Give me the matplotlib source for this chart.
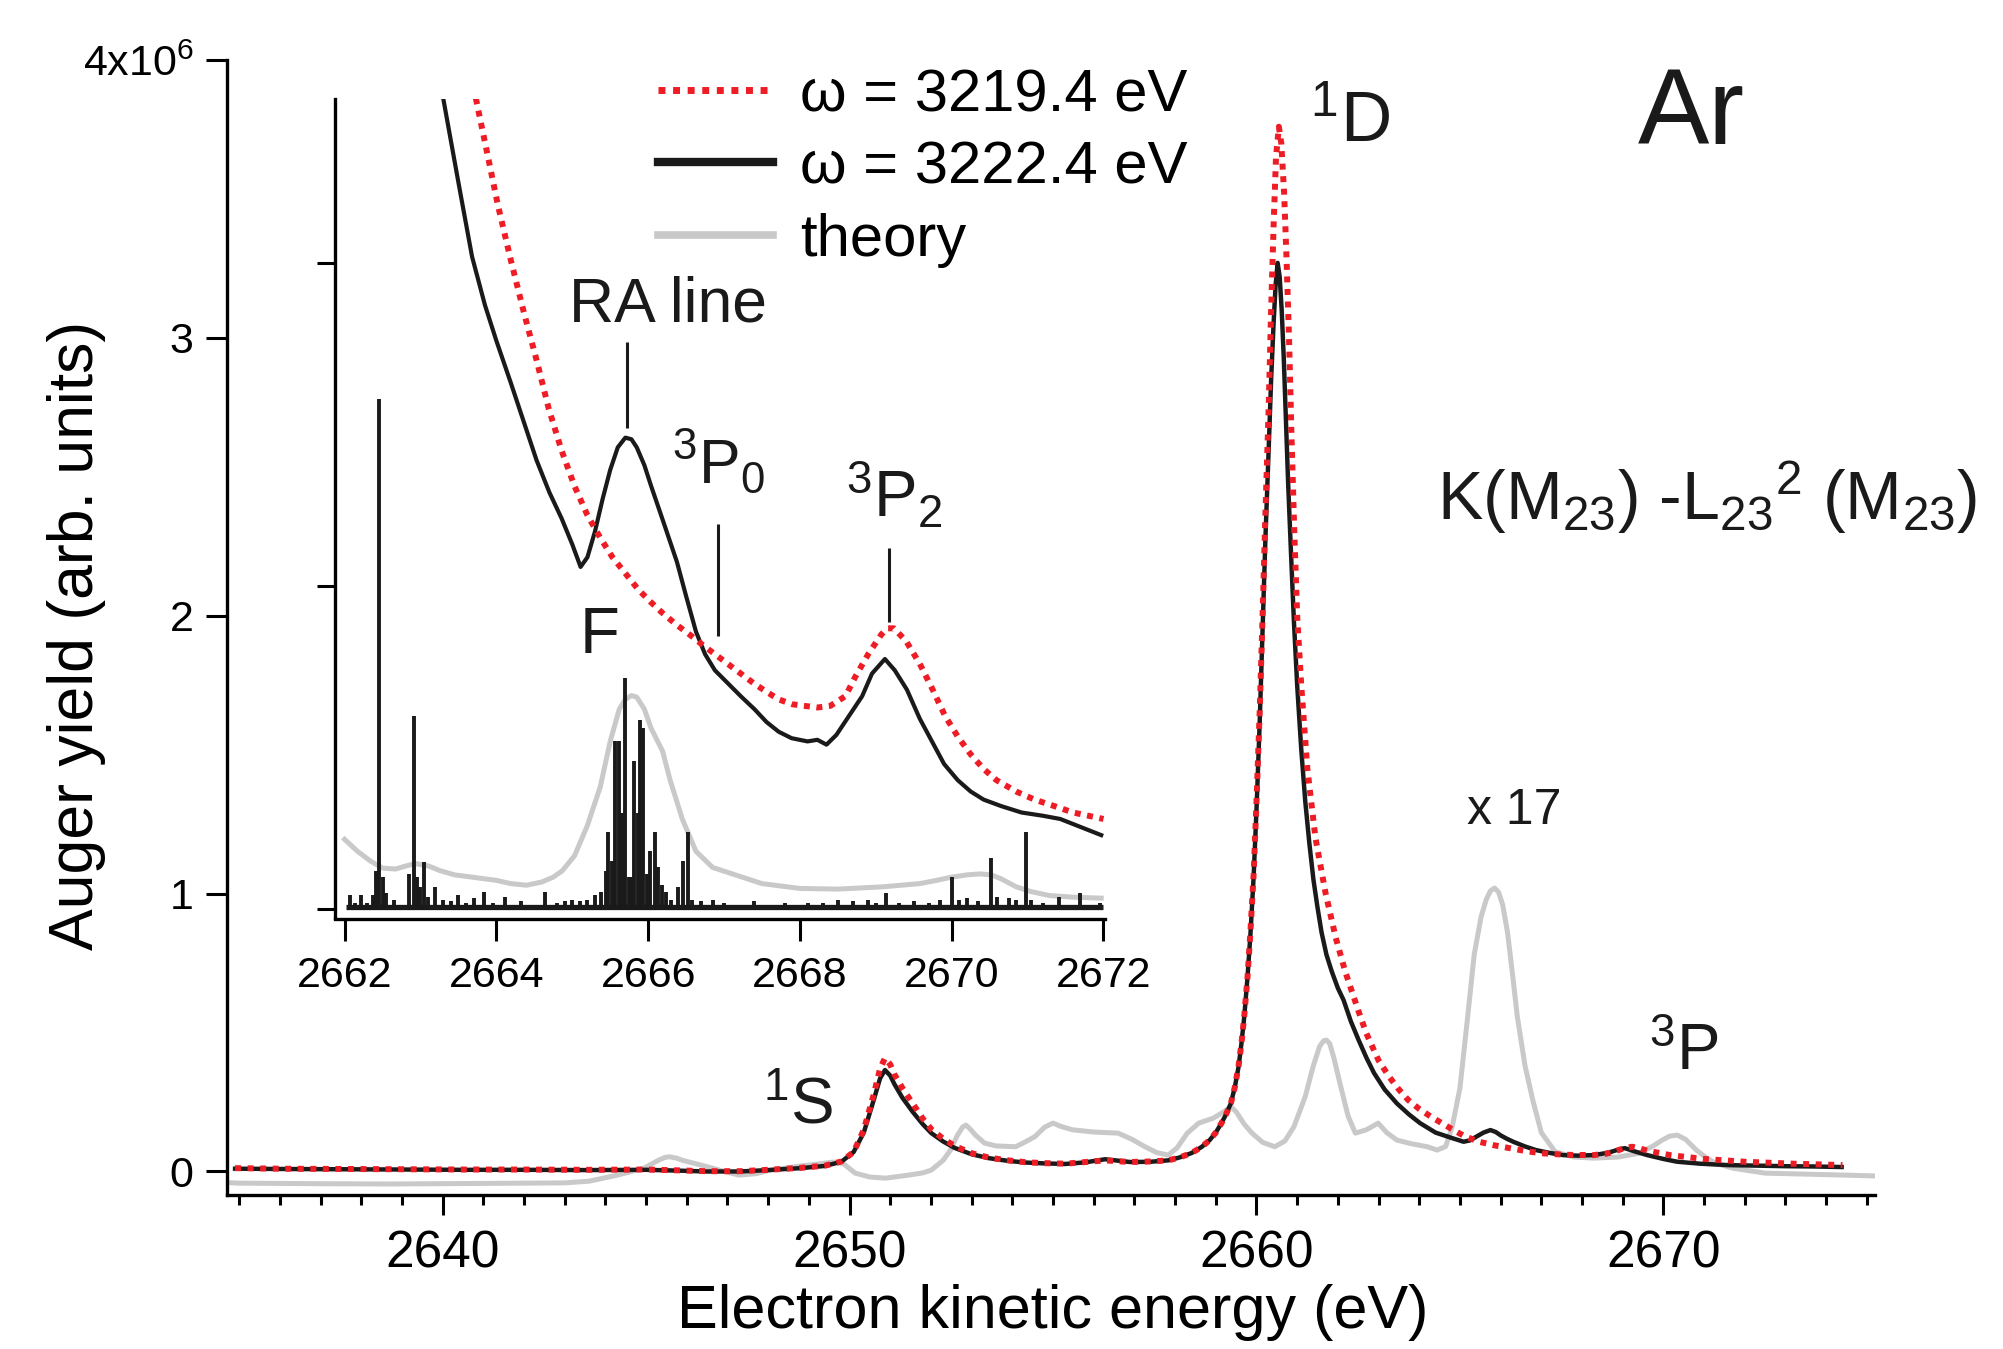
import matplotlib
matplotlib.use("Agg")
import matplotlib.pyplot as plt
from matplotlib.ticker import MultipleLocator, FixedLocator

plt.rcParams['font.family'] = ['Liberation Sans', 'DejaVu Sans']
plt.rcParams['mathtext.fontset'] = 'custom'
plt.rcParams['mathtext.rm'] = 'Liberation Sans'
plt.rcParams['mathtext.it'] = 'Liberation Sans:italic'
plt.rcParams['mathtext.bf'] = 'Liberation Sans:bold'

# ---------------- data (main panel, y in units of 1e6) ----------------
black_E = [2634.9, 2636.0, 2637.5, 2639.0, 2640.5, 2642.0, 2643.5, 2645.0, 2645.8, 2646.5,
           2647.3, 2648.0, 2648.8, 2649.4, 2649.8, 2650.1, 2650.35, 2650.6, 2650.75, 2650.87,
           2651.0, 2651.1, 2651.3, 2651.55, 2651.8, 2652.01, 2652.3, 2652.58, 2653.0, 2653.42,
           2653.9, 2654.35, 2654.8, 2655.3, 2655.8, 2656.28, 2656.9, 2657.4, 2657.83, 2658.1,
           2658.4, 2658.65, 2658.85, 2659.0, 2659.14, 2659.25, 2659.37, 2659.47, 2659.56, 2659.63,
           2659.70, 2659.78, 2659.85, 2659.93, 2660.0, 2660.08, 2660.15, 2660.22, 2660.30, 2660.36,
           2660.42, 2660.47, 2660.52, 2660.57, 2660.62, 2660.67, 2660.72, 2660.78, 2660.85, 2660.92,
           2661.0, 2661.1, 2661.2, 2661.3, 2661.4, 2661.5, 2661.6, 2661.72, 2661.85, 2662.0,
           2662.14, 2662.32, 2662.51, 2662.7, 2662.89, 2663.15, 2663.45, 2663.75, 2664.02, 2664.4,
           2664.81, 2665.09, 2665.25, 2665.4, 2665.58, 2665.75, 2665.88, 2666.0, 2666.15, 2666.31,
           2666.6, 2666.87, 2667.2, 2667.53, 2667.9, 2668.28, 2668.5, 2668.7, 2668.9, 2669.05,
           2669.3, 2669.6, 2670.0, 2670.34, 2670.9, 2671.57, 2672.3, 2673.0, 2673.7, 2674.38]
black_y = [0.010, 0.009, 0.008, 0.007, 0.006, 0.006, 0.005, 0.006, 0.003, 0.000,
           0.000, 0.005, 0.012, 0.020, 0.035, 0.07, 0.14, 0.26, 0.335, 0.365,
           0.345, 0.315, 0.265, 0.215, 0.17, 0.138, 0.108, 0.085, 0.062, 0.048,
           0.038, 0.032, 0.029, 0.027, 0.033, 0.044, 0.034, 0.035, 0.040, 0.050,
           0.066, 0.088, 0.113, 0.140, 0.174, 0.205, 0.245, 0.305, 0.377, 0.46,
           0.557, 0.70, 0.85, 1.06, 1.30, 1.62, 1.95, 2.28, 2.60, 2.85,
           3.05, 3.19, 3.27, 3.22, 3.10, 2.93, 2.72, 2.47, 2.22, 1.98,
           1.75, 1.52, 1.33, 1.18, 1.05, 0.95, 0.86, 0.78, 0.72, 0.66,
           0.617, 0.54, 0.473, 0.41, 0.354, 0.295, 0.245, 0.205, 0.174, 0.14,
           0.12, 0.107, 0.112, 0.125, 0.14, 0.149, 0.142, 0.13, 0.118, 0.107,
           0.09, 0.077, 0.067, 0.059, 0.057, 0.059, 0.064, 0.070, 0.079, 0.084,
           0.072, 0.059, 0.045, 0.035, 0.028, 0.023, 0.021, 0.019, 0.018, 0.016]

red_E = [2634.9, 2636.0, 2637.5, 2639.0, 2640.5, 2642.0, 2643.5, 2645.0, 2645.8, 2646.5,
         2647.3, 2648.0, 2648.8, 2649.4, 2649.8, 2650.1, 2650.35, 2650.6, 2650.75, 2650.87,
         2651.0, 2651.1, 2651.3, 2651.55, 2651.8, 2652.01, 2652.3, 2652.58, 2653.0, 2653.42,
         2653.9, 2654.35, 2654.8, 2655.3, 2655.8, 2656.28, 2656.9, 2657.4, 2657.83, 2658.1,
         2658.4, 2658.65, 2658.85, 2659.0, 2659.14, 2659.25, 2659.37, 2659.47, 2659.56, 2659.63,
         2659.70, 2659.78, 2659.85, 2659.93, 2660.0, 2660.08, 2660.15, 2660.22, 2660.3, 2660.36,
         2660.42, 2660.48, 2660.55, 2660.61, 2660.68, 2660.74, 2660.8, 2660.86, 2660.93, 2661.0,
         2661.1, 2661.25, 2661.45, 2661.7, 2661.95, 2662.18, 2662.5, 2662.7, 2663.0, 2663.26,
         2663.5, 2663.73, 2664.0, 2664.29, 2664.76, 2665.1, 2665.47, 2665.85, 2666.22, 2666.6,
         2666.97, 2667.6, 2668.28, 2668.6, 2668.8, 2669.0, 2669.23, 2669.4, 2669.6, 2670.16,
         2671.0, 2672.0, 2673.2, 2674.4]
red_y = [0.012, 0.010, 0.009, 0.008, 0.007, 0.007, 0.006, 0.007, 0.004, 0.001,
         0.001, 0.006, 0.013, 0.021, 0.036, 0.07, 0.15, 0.28, 0.37, 0.408,
         0.385, 0.35, 0.30, 0.245, 0.19, 0.152, 0.118, 0.092, 0.066, 0.050,
         0.040, 0.033, 0.030, 0.028, 0.034, 0.040, 0.034, 0.036, 0.040, 0.050,
         0.066, 0.088, 0.113, 0.140, 0.174, 0.205, 0.245, 0.305, 0.38, 0.46,
         0.56, 0.70, 0.86, 1.07, 1.33, 1.66, 2.0, 2.37, 2.75, 3.10,
         3.40, 3.65, 3.76, 3.70, 3.52, 3.28, 3.0, 2.65, 2.3, 2.0,
         1.75, 1.45, 1.2, 1.0, 0.84, 0.72, 0.58, 0.497, 0.40, 0.341,
         0.295, 0.257, 0.225, 0.197, 0.156, 0.128, 0.107, 0.094, 0.084, 0.074,
         0.066, 0.060, 0.059, 0.064, 0.072, 0.082, 0.089, 0.084, 0.075, 0.059,
         0.045, 0.035, 0.028, 0.023]

theory_E = [2634.7, 2635.0, 2637.0, 2638.7, 2641.0, 2643.0, 2643.6, 2644.3, 2644.95, 2645.3,
            2645.45, 2645.57, 2645.75, 2645.9, 2646.35, 2646.8, 2647.28, 2647.7, 2648.06, 2648.7,
            2649.3, 2649.6, 2649.85, 2650.14, 2650.5, 2650.89, 2651.2, 2651.5, 2651.8, 2652.01,
            2652.3, 2652.48, 2652.65, 2652.78, 2652.86, 2652.95, 2653.1, 2653.32, 2653.6, 2654.08,
            2654.3, 2654.55, 2654.8, 2655.0, 2655.2, 2655.48, 2656.0, 2656.6, 2656.95, 2657.26,
            2657.55, 2657.83, 2658.05, 2658.3, 2658.58, 2658.94, 2659.2, 2659.37, 2659.5, 2659.7,
            2659.89, 2660.15, 2660.45, 2660.7, 2660.92, 2661.2, 2661.39, 2661.55, 2661.65, 2661.72,
            2661.8, 2661.9, 2662.05, 2662.25, 2662.43, 2662.7, 2662.99, 2663.2, 2663.45, 2663.8,
            2664.2, 2664.44, 2664.65, 2664.81, 2665.0, 2665.19, 2665.35, 2665.52, 2665.65, 2665.75,
            2665.85, 2665.95, 2666.05, 2666.17, 2666.3, 2666.41, 2666.6, 2666.79, 2667.0, 2667.34,
            2667.8, 2668.28, 2668.9, 2669.41, 2669.75, 2669.97, 2670.15, 2670.34, 2670.55, 2670.81,
            2671.05, 2671.28, 2671.7, 2672.5, 2673.9, 2675.2]
theory_y = [-0.040, -0.042, -0.044, -0.045, -0.043, -0.041, -0.035, -0.013, 0.012, 0.040,
            0.050, 0.053, 0.048, 0.040, 0.023, 0.005, -0.013, -0.008, 0.005, 0.018,
            0.028, 0.034, 0.028, -0.006, -0.020, -0.024, -0.018, -0.012, -0.005, 0.005,
            0.040, 0.077, 0.13, 0.16, 0.167, 0.155, 0.13, 0.102, 0.092, 0.089,
            0.105, 0.125, 0.16, 0.174, 0.162, 0.150, 0.142, 0.138, 0.115, 0.089,
            0.068, 0.059, 0.085, 0.138, 0.174, 0.192, 0.215, 0.233, 0.215, 0.17,
            0.138, 0.105, 0.089, 0.11, 0.161, 0.27, 0.377, 0.45, 0.47, 0.473,
            0.46, 0.41, 0.318, 0.20, 0.138, 0.15, 0.174, 0.14, 0.113, 0.10,
            0.089, 0.077, 0.09, 0.161, 0.30, 0.557, 0.78, 0.917, 0.98, 1.01,
            1.02, 1.005, 0.96, 0.86, 0.70, 0.557, 0.38, 0.257, 0.14, 0.071,
            0.052, 0.048, 0.052, 0.066, 0.092, 0.113, 0.127, 0.131, 0.115, 0.077,
            0.05, 0.030, 0.012, -0.006, -0.011, -0.016]

# ---------------- data (inset, arbitrary units) ----------------
in_black_E = [2663.3, 2663.5, 2663.68, 2663.85, 2664.0, 2664.19, 2664.36, 2664.53, 2664.7, 2664.86,
              2665.0, 2665.11, 2665.2, 2665.3, 2665.4, 2665.5, 2665.6, 2665.70, 2665.78, 2665.85,
              2665.95, 2666.04, 2666.2, 2666.38, 2666.5, 2666.63, 2666.75, 2666.88, 2667.05, 2667.22,
              2667.4, 2667.56, 2667.72, 2667.89, 2668.1, 2668.23, 2668.35, 2668.48, 2668.65, 2668.82,
              2668.95, 2669.12, 2669.25, 2669.41, 2669.58, 2669.74, 2669.9, 2670.08, 2670.25, 2670.42,
              2670.65, 2670.92, 2671.2, 2671.43, 2671.7, 2671.97]
in_black_y = [2.51, 2.25, 2.02, 1.87, 1.76, 1.63, 1.51, 1.39, 1.29, 1.21,
              1.13, 1.06, 1.09, 1.17, 1.27, 1.36, 1.43, 1.46, 1.455, 1.43,
              1.375, 1.31, 1.20, 1.075, 0.97, 0.86, 0.79, 0.74, 0.70, 0.66,
              0.62, 0.58, 0.55, 0.53, 0.52, 0.525, 0.51, 0.54, 0.60, 0.66,
              0.73, 0.775, 0.74, 0.68, 0.59, 0.52, 0.45, 0.40, 0.365, 0.34,
              0.32, 0.30, 0.29, 0.28, 0.255, 0.23]

in_red_E = [2663.73, 2663.88, 2664.02, 2664.19, 2664.36, 2664.53, 2664.69, 2664.86, 2665.03, 2665.2,
            2665.37, 2665.53, 2665.70, 2665.87, 2666.04, 2666.2, 2666.38, 2666.55, 2666.71, 2666.88,
            2667.05, 2667.22, 2667.39, 2667.55, 2667.72, 2667.9, 2668.06, 2668.23, 2668.40, 2668.6,
            2668.73, 2668.9, 2669.07, 2669.15, 2669.24, 2669.4, 2669.58, 2669.75, 2669.91, 2670.08,
            2670.25, 2670.42, 2670.59, 2670.85, 2671.09, 2671.35, 2671.60, 2671.8, 2672.0]
in_red_y = [2.51, 2.34, 2.18, 2.01, 1.85, 1.70, 1.55, 1.42, 1.31, 1.22,
            1.15, 1.09, 1.04, 0.99, 0.95, 0.915, 0.88, 0.85, 0.82, 0.79,
            0.76, 0.73, 0.70, 0.675, 0.65, 0.635, 0.63, 0.625, 0.63, 0.66,
            0.72, 0.79, 0.85, 0.87, 0.87, 0.83, 0.76, 0.68, 0.60, 0.535,
            0.48, 0.435, 0.40, 0.365, 0.34, 0.32, 0.30, 0.29, 0.28]

in_theory_E = [2662.0, 2662.17, 2662.34, 2662.5, 2662.67, 2662.8, 2662.93, 2663.1, 2663.26, 2663.45,
               2663.68, 2664.0, 2664.19, 2664.4, 2664.6, 2664.75, 2664.87, 2665.03, 2665.2, 2665.37,
               2665.5, 2665.62, 2665.7, 2665.78, 2665.85, 2665.95, 2666.04, 2666.19, 2666.29, 2666.45,
               2666.63, 2666.85, 2667.11, 2667.5, 2668.0, 2668.5, 2669.09, 2669.58, 2669.8, 2670.0,
               2670.2, 2670.37, 2670.52, 2670.65, 2670.85, 2671.05, 2671.29, 2671.6, 2671.97]
in_theory_y = [0.217, 0.18, 0.15, 0.128, 0.125, 0.134, 0.142, 0.135, 0.12, 0.107,
               0.10, 0.09, 0.08, 0.075, 0.085, 0.10, 0.12, 0.166, 0.26, 0.38,
               0.52, 0.62, 0.65, 0.662, 0.657, 0.62, 0.56, 0.49, 0.40, 0.28,
               0.18, 0.13, 0.11, 0.08, 0.065, 0.063, 0.07, 0.08, 0.09, 0.10,
               0.107, 0.11, 0.107, 0.095, 0.07, 0.055, 0.043, 0.038, 0.035]

stick_E = [2662.07, 2662.14, 2662.21, 2662.30, 2662.37, 2662.42, 2662.46, 2662.50, 2662.55, 2662.65,
           2662.72, 2662.85, 2662.91, 2662.95, 2663.00, 2663.05, 2663.10, 2663.19, 2663.30, 2663.40,
           2663.50, 2663.60, 2663.70, 2663.84, 2663.95, 2664.11, 2664.20, 2664.33, 2664.45, 2664.64,
           2664.80, 2664.90, 2665.00, 2665.10, 2665.20, 2665.30, 2665.38, 2665.44, 2665.47, 2665.52,
           2665.56, 2665.62, 2665.66, 2665.70, 2665.75, 2665.79, 2665.82, 2665.86, 2665.89, 2665.93,
           2665.98, 2666.03, 2666.09, 2666.13, 2666.18, 2666.24, 2666.30, 2666.40, 2666.46, 2666.52,
           2666.58, 2666.70, 2666.86, 2667.00, 2667.20, 2667.40, 2667.60, 2667.80, 2668.10, 2668.30,
           2668.50, 2668.70, 2668.90, 2669.00, 2669.14, 2669.30, 2669.50, 2669.70, 2669.85, 2670.00,
           2670.10, 2670.20, 2670.35, 2670.52, 2670.60, 2670.75, 2670.85, 2670.98, 2671.05, 2671.20,
           2671.42, 2671.55, 2671.69, 2671.85, 2671.95]
stick_h = [0.045, 0.02, 0.045, 0.02, 0.045, 0.12, 1.58, 0.10, 0.05, 0.03,
           0.015, 0.11, 0.60, 0.10, 0.07, 0.146, 0.04, 0.07, 0.03, 0.025,
           0.045, 0.02, 0.035, 0.055, 0.02, 0.04, 0.015, 0.025, 0.015, 0.055,
           0.02, 0.025, 0.03, 0.025, 0.03, 0.045, 0.055, 0.12, 0.24, 0.15,
           0.52, 0.52, 0.30, 0.715, 0.10, 0.10, 0.46, 0.30, 0.585, 0.56,
           0.11, 0.18, 0.24, 0.13, 0.075, 0.055, 0.03, 0.07, 0.15, 0.24,
           0.03, 0.025, 0.03, 0.02, 0.015, 0.025, 0.015, 0.02, 0.02, 0.02,
           0.03, 0.025, 0.03, 0.02, 0.05, 0.02, 0.025, 0.02, 0.03, 0.10,
           0.03, 0.035, 0.025, 0.16, 0.04, 0.035, 0.03, 0.24, 0.03, 0.02,
           0.04, 0.015, 0.05, 0.015, 0.02]

# line-position markers in the inset (energy, lower end, upper end)
marker_E = [2665.72, 2666.92, 2669.17]
marker_lo = [1.49, 0.846, 0.889]
marker_hi = [1.755, 1.194, 1.12]

main_xticks = [2640, 2650, 2660, 2670]
main_yticks = [0, 1, 2, 3, 4]
main_yticklabels = ['0', '1', '2', '3', r'4x10$^{6}$']
inset_xticks = [2662, 2664, 2666, 2668, 2670, 2672]
inset_yticks = [0, 1, 2]
legend_labels = ['\u03c9 = 3219.4 eV', '\u03c9 = 3222.4 eV', 'theory']

RED = '#ee1c25'
GRAY = '#c9c9c9'
BLACK = '#1a1a1a'

W, H = 2003, 1349
fig = plt.figure(figsize=(W / 100, H / 100), dpi=100)


def fx(px):
    return px / W


def fy(py):
    return 1 - py / H


ax = fig.add_axes([0.1133, 0.1145, 0.8228, 0.8410])
lt, = ax.plot(theory_E, theory_y, color=GRAY, lw=3.6, zorder=2, solid_joinstyle='round')
lb, = ax.plot(black_E, black_y, color=BLACK, lw=3.2, zorder=3, solid_joinstyle='round')
lr, = ax.plot(red_E, red_y, color=RED, lw=4.3, ls=(0, (1, 1.1)), zorder=4)

ax.set_xlim(2634.7, 2675.2)
ax.set_ylim(-0.083, 4.0)
for s in ['top', 'right']:
    ax.spines[s].set_visible(False)
for s in ['left', 'bottom']:
    ax.spines[s].set_linewidth(2.4)
ax.xaxis.set_major_locator(FixedLocator(main_xticks))
ax.xaxis.set_minor_locator(MultipleLocator(1))
ax.yaxis.set_major_locator(FixedLocator(main_yticks))
ax.set_yticklabels(main_yticklabels)
ax.tick_params(axis='x', which='major', direction='out', length=14.5, width=2.2, labelsize=37, pad=11)
ax.tick_params(axis='x', which='minor', direction='out', length=7.5, width=2.2)
ax.tick_params(axis='y', which='major', direction='out', length=15, width=2.2, labelsize=31, pad=9)
ax.set_xlabel('Electron kinetic energy (eV)', fontsize=44)
ax.xaxis.set_label_coords(0.501, -0.104)
ax.xaxis.label.set_va('center')
ax.set_ylabel('Auger yield (arb. units)', fontsize=45)
ax.yaxis.set_label_coords(-0.091, 0.493)
ax.yaxis.label.set_va('center')

leg = ax.legend([lr, lb, lt], legend_labels, loc='upper left',
                bbox_to_anchor=(fx(658), fy(68)), bbox_transform=fig.transFigure,
                frameon=False, fontsize=43, handlelength=1.93, handletextpad=0.45,
                borderpad=0, borderaxespad=0, labelspacing=0.29)
leg_lines = leg.get_lines()
leg_lines[0].set_linewidth(5.0)
leg_lines[1].set_linewidth(6.0)
leg_lines[2].set_linewidth(5.5)

# ---------------- inset ----------------
axi = fig.add_axes([fx(334.7), fy(918.5), fx(1105 - 334.7), (918.5 - 99) / H])
axi.set_facecolor('none')
axi.vlines(stick_E, 0, stick_h, color=BLACK, lw=2.8, zorder=3)
axi.hlines(0.008, 2662.02, 2672.0, color=BLACK, lw=3.8, zorder=3)
axi.plot(in_theory_E, in_theory_y, color=GRAY, lw=3.6, zorder=2, solid_joinstyle='round')
axi.plot(in_black_E, in_black_y, color=BLACK, lw=3.0, zorder=4, solid_joinstyle='round')
axi.plot(in_red_E, in_red_y, color=RED, lw=4.3, ls=(0, (1, 1.1)), zorder=5)
axi.vlines(marker_E, marker_lo, marker_hi, color=BLACK, lw=2.2)
axi.set_xlim(2661.87, 2672.02)
axi.set_ylim(-0.028, 2.508)
for s in ['top', 'right']:
    axi.spines[s].set_visible(False)
for s in ['left', 'bottom']:
    axi.spines[s].set_linewidth(2.4)
axi.xaxis.set_major_locator(FixedLocator(inset_xticks))
axi.yaxis.set_major_locator(FixedLocator(inset_yticks))
axi.tick_params(axis='x', direction='out', length=16, width=2.2, labelsize=31, pad=11)
axi.tick_params(axis='y', direction='out', length=13, width=2.2, labelleft=False)

# ---------------- annotations (figure pixel coordinates) ----------------
def label(px, py, s, size, ha='center'):
    fig.text(fx(px), fy(py), s, fontsize=size, ha=ha, va='center', color=BLACK)


label(668, 305, 'RA line', 45)
label(719, 462, r'$^{3}$P$_{0}$', 45)
label(894, 496, r'$^{3}$P$_{2}$', 47)
label(600, 636, 'F', 47)
label(798, 1107, r'$^{1}$S', 47)
label(1350, 124, r'$^{1}$D', 51)
label(1514, 811, 'x 17', 36)
label(1684, 1053, r'$^{3}$P', 47)
label(1691, 116, 'Ar', 77)
label(1437, 498, r'K(M$_{23}$) -L$_{23}$$^{2}$ (M$_{23}$)', 49, ha='left')

fig.savefig('out.png', dpi=100)
